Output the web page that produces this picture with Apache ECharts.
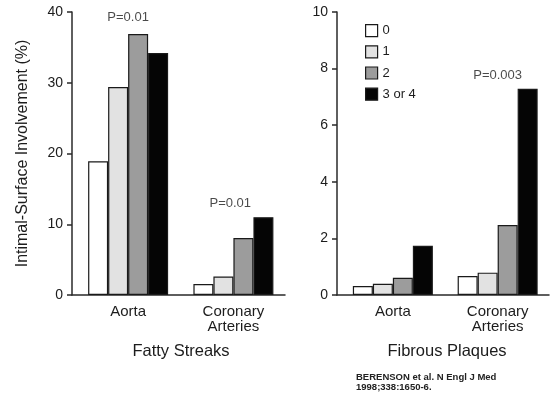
<!DOCTYPE html>
<html>
<head>
<meta charset="utf-8">
<script src="https://cdn.jsdelivr.net/npm/echarts@6/dist/echarts.min.js"></script>
<style>
  html, body { margin: 0; padding: 0; background: #fff; }
  #chart { width: 553px; height: 394px; }
</style>
</head>
<body>
<div id="chart"></div>
<script>
// Lesion extent by number of risk factors (Bogalusa Heart Study)
const categories = ['Aorta', 'Coronary\nArteries'];
const categoryPos = [1, 2];
const grades = ['0', '1', '2', '3 or 4'];
const gradeColors = ['#ffffff', '#e2e2e2', '#9c9c9c', '#050505'];

// Fatty streaks, % intimal surface involved
const fatty0 = [18.9, 1.55];
const fatty1 = [29.4, 2.6];
const fatty2 = [36.9, 8.05];
const fatty34 = [34.2, 11.0];

// Fibrous plaques, % intimal surface involved
const fibrous0 = [0.32, 0.67];
const fibrous1 = [0.40, 0.79];
const fibrous2 = [0.61, 2.47];
const fibrous34 = [1.74, 7.29];

// P-value annotations: [category position, height, text]
const fattyP = [[1, 39.2, 'P=0.01'], [1.97, 13.0, 'P=0.01']];
const fibrousP = [[2, 7.75, 'P=0.003']];

const leftTicks = { min: 0, max: 40, interval: 10 };
const rightTicks = { min: 0, max: 10, interval: 2 };

const FONT = 'Liberation Sans, Arial, Helvetica, sans-serif';
const INK = '#1c1c1c';
const LINE = '#2a2a2a';

function xAxisFor(gridIndex) {
  return {
    type: 'value', gridIndex,
    min: 0.467, max: 2.49,
    splitLine: { show: false },
    axisLine: { show: true, onZero: true, lineStyle: { color: LINE, width: 1.5 } },
    axisTick: { show: false },
    axisLabel: {
      customValues: categoryPos,
      formatter: v => categories[categoryPos.indexOf(v)] || '',
      color: INK, fontFamily: FONT, fontSize: 15, lineHeight: 15, margin: 9
    }
  };
}

function yAxisFor(gridIndex, ticks, name) {
  return {
    type: 'value', gridIndex,
    min: ticks.min, max: ticks.max, interval: ticks.interval,
    name: name || '',
    nameLocation: 'middle', nameRotate: 90, nameGap: 41,
    nameTextStyle: { color: INK, fontFamily: FONT, fontSize: 16 },
    splitLine: { show: false },
    axisLine: { show: true, lineStyle: { color: LINE, width: 1.5 } },
    axisTick: { show: true, inside: false, length: 5, lineStyle: { color: LINE, width: 1.5 } },
    axisLabel: { color: INK, fontFamily: FONT, fontSize: 14, margin: 9 }
  };
}

function barSeries(name, values, color, axisIndex) {
  return {
    type: 'bar', name,
    xAxisIndex: axisIndex, yAxisIndex: axisIndex,
    barWidth: 20, barGap: '0%',
    data: values.map((v, i) => [categoryPos[i], v]),
    itemStyle: { color, borderColor: '#1a1a1a', borderWidth: 1.2 },
    emphasis: { disabled: true }
  };
}

function pSeries(points, axisIndex) {
  return {
    type: 'scatter', name: 'p',
    xAxisIndex: axisIndex, yAxisIndex: axisIndex,
    symbolSize: 1, silent: true,
    itemStyle: { color: 'rgba(0,0,0,0)' },
    data: points.map(p => ({ value: [p[0], p[1]], name: p[2] })),
    label: {
      show: true, position: 'inside', formatter: '{b}',
      color: INK, fontFamily: FONT, fontSize: 13
    }
  };
}

const fattySets = [fatty0, fatty1, fatty2, fatty34];
const fibrousSets = [fibrous0, fibrous1, fibrous2, fibrous34];

const series = [];
fattySets.forEach((vals, i) => series.push(barSeries(grades[i], vals, gradeColors[i], 0)));
fibrousSets.forEach((vals, i) => series.push(barSeries(grades[i], vals, gradeColors[i], 1)));
series.push(pSeries(fattyP, 0));
series.push(pSeries(fibrousP, 1));

const chart = echarts.init(document.getElementById('chart'), null, { renderer: 'canvas' });
chart.setOption({
  backgroundColor: '#ffffff',
  animation: false,
  grid: [
    { left: 72, top: 12, width: 213, height: 283 },
    { left: 337, top: 12, width: 212, height: 283 }
  ],
  xAxis: [xAxisFor(0), xAxisFor(1)],
  yAxis: [
    yAxisFor(0, leftTicks, 'Intimal-Surface Involvement (%)'),
    yAxisFor(1, rightTicks)
  ],
  legend: {
    data: grades,
    orient: 'vertical',
    left: 360, top: 19,
    icon: 'rect',
    itemWidth: 12, itemHeight: 12, itemGap: 8,
    itemStyle: { borderColor: '#1a1a1a', borderWidth: 1.2 },
    textStyle: { color: INK, fontFamily: FONT, fontSize: 13, lineHeight: 12 },
    selectedMode: false
  },
  graphic: [
    {
      type: 'text', x: 181, y: 351,
      style: { text: 'Fatty Streaks', fill: INK, font: '16.5px ' + FONT, textAlign: 'center', textVerticalAlign: 'middle' }
    },
    {
      type: 'text', x: 447, y: 351,
      style: { text: 'Fibrous Plaques', fill: INK, font: '16.5px ' + FONT, textAlign: 'center', textVerticalAlign: 'middle' }
    },
    {
      type: 'text', x: 356, y: 372,
      style: {
        text: 'BERENSON et al. N Engl J Med\n1998;338:1650-6.',
        fill: '#222', font: 'bold 9.5px ' + FONT, lineHeight: 10
      }
    }
  ],
  series
});
</script>
</body>
</html>
